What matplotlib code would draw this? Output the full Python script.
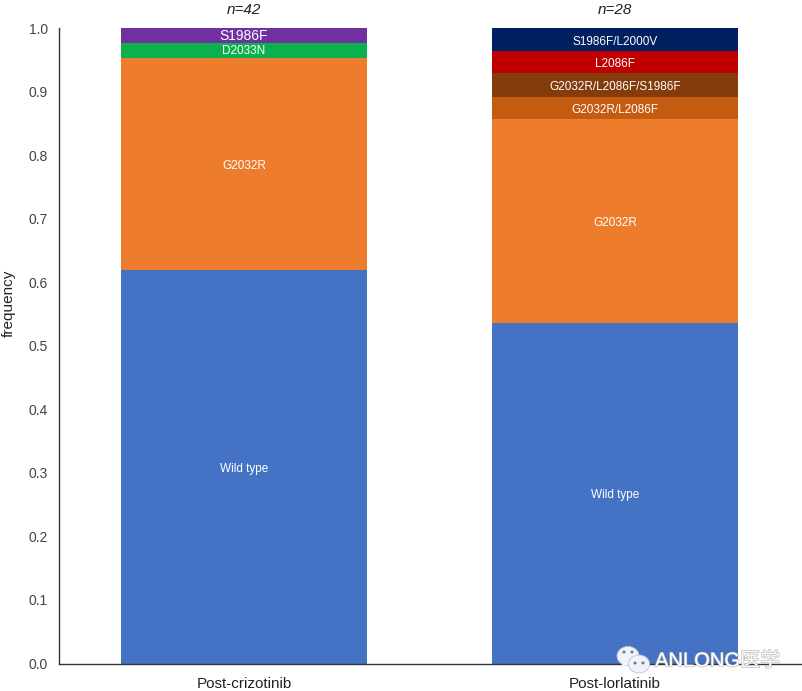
import matplotlib
matplotlib.use("Agg")
import matplotlib.pyplot as plt
import matplotlib.patheffects as pe
from matplotlib.patches import Ellipse, Polygon

plt.rcParams["font.family"] = ["Liberation Sans", "Noto Sans CJK SC", "DejaVu Sans"]

groups = ["Post-crizotinib", "Post-lorlatinib"]
counts = ["n=42", "n=28"]

crizotinib_labels = ["Wild type", "G2032R", "D2033N", "S1986F"]
crizotinib_values = [0.619, 0.334, 0.023, 0.024]
crizotinib_colors = ["#4472c4", "#ed7d2c", "#0cb14f", "#7030a0"]
crizotinib_sizes = [8.5, 8.5, 8.5, 10]

lorlatinib_labels = ["Wild type", "G2032R", "G2032R/L2086F",
                     "G2032R/L2086F/S1986F", "L2086F", "S1986F/L2000V"]
lorlatinib_values = [0.536, 0.321, 0.034, 0.038, 0.035, 0.036]
lorlatinib_colors = ["#4472c4", "#ed7d2c", "#c55a11", "#843c0c", "#c00000", "#002060"]
lorlatinib_sizes = [8.5, 8.5, 8.5, 8.5, 8.5, 8.5]

yticks = [0.0, 0.1, 0.2, 0.3, 0.4, 0.5, 0.6, 0.7, 0.8, 0.9, 1.0]

W, H = 803, 691
fig = plt.figure(figsize=(W / 100, H / 100), dpi=100)
ax = fig.add_axes([59 / W, 1 - 663.5 / H, (W - 59) / W, 635.5 / H])


def stacked(ax, x, values, colors, labels, sizes):
    bottom = 0
    for v, c, lab, s in zip(values, colors, labels, sizes):
        ax.bar(x, v, 0.665, bottom=bottom, color=c, linewidth=0)
        # the wider segments have their labels a bit below the middle
        shift = -1.5 if v > 0.03 else 0
        ax.annotate(lab, (x, bottom + v / 2), xytext=(0, shift),
                    textcoords="offset points", color="white", fontsize=s,
                    ha="center", va="center")
        bottom += v


stacked(ax, 0, crizotinib_values, crizotinib_colors, crizotinib_labels, crizotinib_sizes)
stacked(ax, 1, lorlatinib_values, lorlatinib_colors, lorlatinib_labels, lorlatinib_sizes)

ax.set_xlim(-0.4987, 1.507)
ax.set_ylim(0, 1.0)
ax.set_xticks([0, 1])
ax.set_xticklabels(groups, fontsize=11, color="#222222")
ax.set_yticks(yticks)
ax.set_yticklabels([f"{t:.1f}" for t in yticks], fontsize=10, color="#444444")
ax.tick_params(axis="x", length=0, pad=10)
ax.tick_params(axis="y", length=0, pad=8)
ax.set_ylabel("frequency", fontsize=11, color="#222222")
ax.yaxis.set_label_coords(-0.058, 0.566)
ax.spines["top"].set_visible(False)
ax.spines["right"].set_visible(False)
ax.spines["left"].set_linewidth(1.0)
ax.spines["bottom"].set_linewidth(1.0)
ax.spines["left"].set_color("#333333")
ax.spines["bottom"].set_color("#333333")

for x, n in zip([0, 1], counts):
    ax.text(x, 1.029, n, fontsize=11, style="italic", color="#222222",
            ha="center", va="center", clip_on=False)


# watermark, bottom right corner
def px(x, y):
    return x / W, 1 - y / H


for cx, cy, w, h in [(628, 656, 22, 19), (639, 664, 21, 18)]:
    fx, fy = px(cx, cy)
    fig.add_artist(Ellipse((fx, fy), w / W, h / H, transform=fig.transFigure,
                           facecolor="#eef2fb", edgecolor="#c4c4c4", linewidth=0.6, zorder=5))
fig.add_artist(Polygon([px(622, 663), px(627, 664), px(621, 670)], closed=True,
                       transform=fig.transFigure, facecolor="#eef2fb",
                       edgecolor="none", zorder=5))
for dx, dy in [(624, 652), (632, 652), (635, 663), (643, 663)]:
    fx, fy = px(dx, dy)
    fig.add_artist(Ellipse((fx, fy), 3 / W, 3 / H, transform=fig.transFigure,
                           facecolor="#777777", edgecolor="none", zorder=6))
fig.text(655 / W, 1 - 661 / H, "ANLONG医学", fontsize=14.5, color="white",
         ha="left", va="center", zorder=6,
         path_effects=[pe.withStroke(linewidth=0.9, foreground="#b5b5b5")])

fig.savefig("out.png", dpi=100)
